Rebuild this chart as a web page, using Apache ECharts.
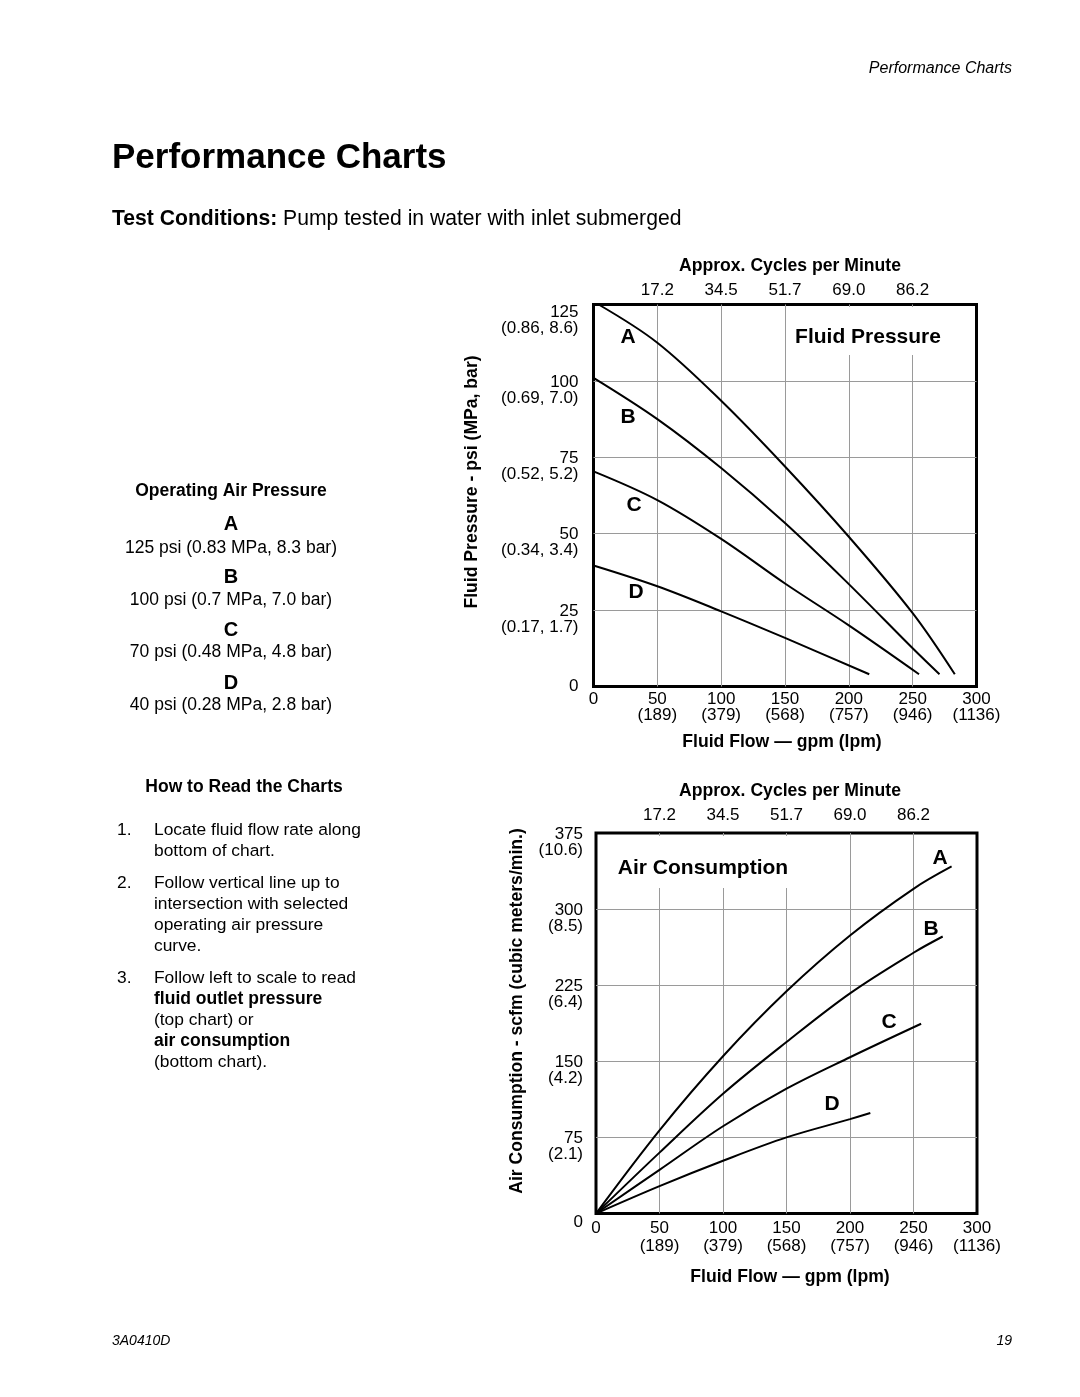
<!DOCTYPE html>
<html>
<head>
<meta charset="utf-8">
<script src="https://cdn.jsdelivr.net/npm/echarts@6/dist/echarts.min.js"></script>
<style>
html,body{margin:0;padding:0;background:#fff;}
#main{width:1080px;height:1397px;}
</style>
</head>
<body>
<div id="main"></div>
<script>
// ---- tick labels ----
const flowTicks = [0, 50, 100, 150, 200, 250, 300];
const flowLpm = ['', '(189)', '(379)', '(568)', '(757)', '(946)', '(1136)'];
const cyclesPerMin = ['', '17.2', '34.5', '51.7', '69.0', '86.2', ''];
const psiTicks = [0, 25, 50, 75, 100, 125];
const psiMetric = ['', '(0.17, 1.7)', '(0.34, 3.4)', '(0.52, 5.2)', '(0.69, 7.0)', '(0.86, 8.6)'];
const scfmTicks = [0, 75, 150, 225, 300, 375];
const scfmMetric = ['', '(2.1)', '(4.2)', '(6.4)', '(8.5)', '(10.6)'];

// ---- Fluid pressure curves [gpm, psi] ----
const pressureA = [[4, 125], [50, 112.5], [100, 93.5], [150, 72], [200, 49], [250, 24], [283, 4]];
const pressureB = [[0, 101], [50, 87.5], [100, 71.5], [150, 53.5], [200, 33.5], [250, 12.5], [271, 4]];
const pressureC = [[0, 70.4], [50, 61], [100, 48.3], [150, 33.7], [200, 20], [255, 4]];
const pressureD = [[0, 39.6], [50, 32.8], [100, 24.6], [150, 15.9], [216, 4]];

// ---- Air consumption curves [gpm, scfm] ----
const airA = [[0, 0], [50, 82], [100, 155], [150, 219], [200, 274], [250, 320], [280, 342]];
const airB = [[0, 0], [50, 60], [100, 118], [150, 169], [200, 217], [250, 257], [273, 273]];
const airC = [[0, 0], [50, 43], [100, 86], [150, 123], [200, 154], [256, 187]];
const airD = [[0, 0], [50, 27], [100, 52], [150, 75], [200, 93], [216, 99]];

const FF = '"Liberation Sans", Arial, Helvetica, sans-serif';
const chart = echarts.init(document.getElementById('main'), null, {renderer: 'canvas'});

function xAxisBottom(gridIndex, lh, margin) {
  return {
    type: 'value', gridIndex: gridIndex, position: 'bottom', min: 0, max: 300, interval: 50,
    axisLine: {show: false}, axisTick: {show: false},
    splitLine: {show: true, showMinLine: false, showMaxLine: false, lineStyle: {color: '#9a9a9a', width: 1}},
    axisLabel: {
      show: true, showMinLabel: true, showMaxLabel: true, margin: margin, verticalAlign: 'top',
      formatter: function (v) {
        const i = flowTicks.indexOf(v);
        if (!flowLpm[i]) return '{n|' + v + '}';
        return '{n|' + v + '}\n{n|' + flowLpm[i] + '}';
      },
      rich: {n: {fontFamily: FF, fontSize: 17, lineHeight: lh, color: '#000'}}
    }
  };
}
function xAxisTop(gridIndex, margin) {
  return {
    type: 'value', gridIndex: gridIndex, position: 'top', min: 0, max: 300, interval: 50,
    axisLine: {show: false}, axisTick: {show: false}, splitLine: {show: false},
    axisLabel: {
      show: true, margin: margin, fontFamily: FF, fontSize: 17, color: '#000',
      formatter: function (v) { return cyclesPerMin[flowTicks.indexOf(v)] || ''; }
    }
  };
}
function yAxis(gridIndex, max, interval, ticks, metric, margin, eTop, eZero) {
  return {
    type: 'value', gridIndex: gridIndex, min: 0, max: max, interval: interval,
    axisLine: {show: false}, axisTick: {show: false},
    splitLine: {show: true, showMinLine: false, showMaxLine: false, lineStyle: {color: '#9a9a9a', width: 1}},
    axisLabel: {
      show: true, showMinLabel: true, showMaxLabel: true, margin: margin, align: 'right',
      formatter: function (v) {
        const i = ticks.indexOf(v);
        if (!metric[i]) return eZero ? '{z|}\n{n|' + v + '}' : '{n|' + v + '}';
        const e = (v === max && eTop) ? 'f' : 'e';
        return '{' + e + '|}\n{n|' + v + '}\n{n|' + metric[i] + '}';
      },
      rich: {
        n: {fontFamily: FF, fontSize: 17, lineHeight: 16, color: '#000', align: 'right'},
        e: {lineHeight: 18, fontSize: 1},
        f: {lineHeight: 32, fontSize: 1},
        z: {lineHeight: 18, fontSize: 1}
      }
    }
  };
}
function line(x, y, data) {
  return {type: 'line', xAxisIndex: x, yAxisIndex: y, data: data, smooth: 0.35,
    symbol: 'none', lineStyle: {color: '#000', width: 2}, z: 3, silent: true};
}
function T(x, y, text, o) {
  o = o || {};
  return {type: 'text', x: x, y: y, z: 10, rotation: o.rot || 0, silent: true,
    style: {text: text, fontFamily: FF, fontSize: o.size || 17.4, fontWeight: o.bold ? 'bold' : 'normal',
      fontStyle: o.italic ? 'italic' : 'normal', fill: '#000', align: o.align || 'center',
      verticalAlign: 'middle', rich: o.rich}};
}
const H = 17.6; // bold heading size

const graphics = [
  // white covers under in-chart titles
  {type: 'rect', z: 1, silent: true, shape: {x: 792, y: 307, width: 152, height: 48}, style: {fill: '#fff'}},
  {type: 'rect', z: 1, silent: true, shape: {x: 611, y: 836, width: 185, height: 52}, style: {fill: '#fff'}},
  T(1012, 69, 'Performance Charts', {align: 'right', italic: true, size: 16}),
  T(112, 158, 'Performance Charts', {align: 'left', bold: true, size: 35}),
  T(112, 219, '{b|Test Conditions:} Pump tested in water with inlet submerged',
    {align: 'left', size: 21.15, rich: {b: {fontFamily: FF, fontSize: 21.15, fontWeight: 'bold', fill: '#000'}}}),
  // top chart
  T(790, 266, 'Approx. Cycles per Minute', {bold: true, size: H}),
  T(782, 742, 'Fluid Flow \u2014 gpm (lpm)', {bold: true, size: H}),
  T(472, 482, 'Fluid Pressure - psi (MPa, bar)', {bold: true, size: H, rot: Math.PI / 2}),
  T(868, 337, 'Fluid Pressure', {bold: true, size: 21}),
  T(628, 337, 'A', {bold: true, size: 21}),
  T(628, 417, 'B', {bold: true, size: 21}),
  T(634, 505, 'C', {bold: true, size: 21}),
  T(636, 592, 'D', {bold: true, size: 21}),
  // bottom chart
  T(790, 791, 'Approx. Cycles per Minute', {bold: true, size: H}),
  T(790, 1277, 'Fluid Flow \u2014 gpm (lpm)', {bold: true, size: H}),
  T(517, 1011, 'Air Consumption - scfm (cubic meters/min.)', {bold: true, size: H, rot: Math.PI / 2}),
  T(703, 868, 'Air Consumption', {bold: true, size: 21}),
  T(940, 858, 'A', {bold: true, size: 21}),
  T(931, 929, 'B', {bold: true, size: 21}),
  T(889, 1022, 'C', {bold: true, size: 21}),
  T(832, 1104, 'D', {bold: true, size: 21}),
  // left block
  T(231, 491, 'Operating Air Pressure', {bold: true, size: 17.5}),
  T(231, 524, 'A', {bold: true, size: 20}),
  T(231, 548, '125 psi (0.83 MPa, 8.3 bar)', {size: 17.5}),
  T(231, 577, 'B', {bold: true, size: 20}),
  T(231, 600, '100 psi (0.7 MPa, 7.0 bar)', {size: 17.5}),
  T(231, 630, 'C', {bold: true, size: 20}),
  T(231, 652, '70 psi (0.48 MPa, 4.8 bar)', {size: 17.5}),
  T(231, 683, 'D', {bold: true, size: 20}),
  T(231, 705, '40 psi (0.28 MPa, 2.8 bar)', {size: 17.5}),
  T(244, 787, 'How to Read the Charts', {bold: true, size: 17.5}),
  T(117, 830, '1.', {align: 'left'}),
  T(154, 830, 'Locate fluid flow rate along', {align: 'left'}),
  T(154, 851, 'bottom of chart.', {align: 'left'}),
  T(117, 883, '2.', {align: 'left'}),
  T(154, 883, 'Follow vertical line up to', {align: 'left'}),
  T(154, 904, 'intersection with selected', {align: 'left'}),
  T(154, 925, 'operating air pressure', {align: 'left'}),
  T(154, 946, 'curve.', {align: 'left'}),
  T(117, 978, '3.', {align: 'left'}),
  T(154, 978, 'Follow left to scale to read', {align: 'left'}),
  T(154, 999, 'fluid outlet pressure', {align: 'left', bold: true, size: 17.5}),
  T(154, 1020, '(top chart) or', {align: 'left'}),
  T(154, 1041, 'air consumption', {align: 'left', bold: true, size: 17.5}),
  T(154, 1062, '(bottom chart).', {align: 'left'}),
  // footer
  T(112, 1341, '3A0410D', {align: 'left', italic: true, size: 14}),
  T(1012, 1341, '19', {align: 'right', italic: true, size: 14})
];

chart.setOption({
  animation: false,
  backgroundColor: '#fff',
  grid: [
    {left: 593.5, top: 304.5, width: 383, height: 382, show: true, borderColor: '#000', borderWidth: 3, backgroundColor: 'transparent'},
    {left: 596, top: 833, width: 381, height: 380.5, show: true, borderColor: '#000', borderWidth: 3, backgroundColor: 'transparent'}
  ],
  xAxis: [xAxisBottom(0, 16, 5), xAxisTop(0, 6), xAxisBottom(1, 18, 6), xAxisTop(1, 9)],
  yAxis: [
    yAxis(0, 125, 25, psiTicks, psiMetric, 15, true, false),
    yAxis(1, 375, 75, scfmTicks, scfmMetric, 13, false, true)
  ],
  series: [
    line(0, 0, pressureA), line(0, 0, pressureB), line(0, 0, pressureC), line(0, 0, pressureD),
    line(2, 1, airA), line(2, 1, airB), line(2, 1, airC), line(2, 1, airD)
  ],
  graphic: graphics
});
</script>
</body>
</html>
